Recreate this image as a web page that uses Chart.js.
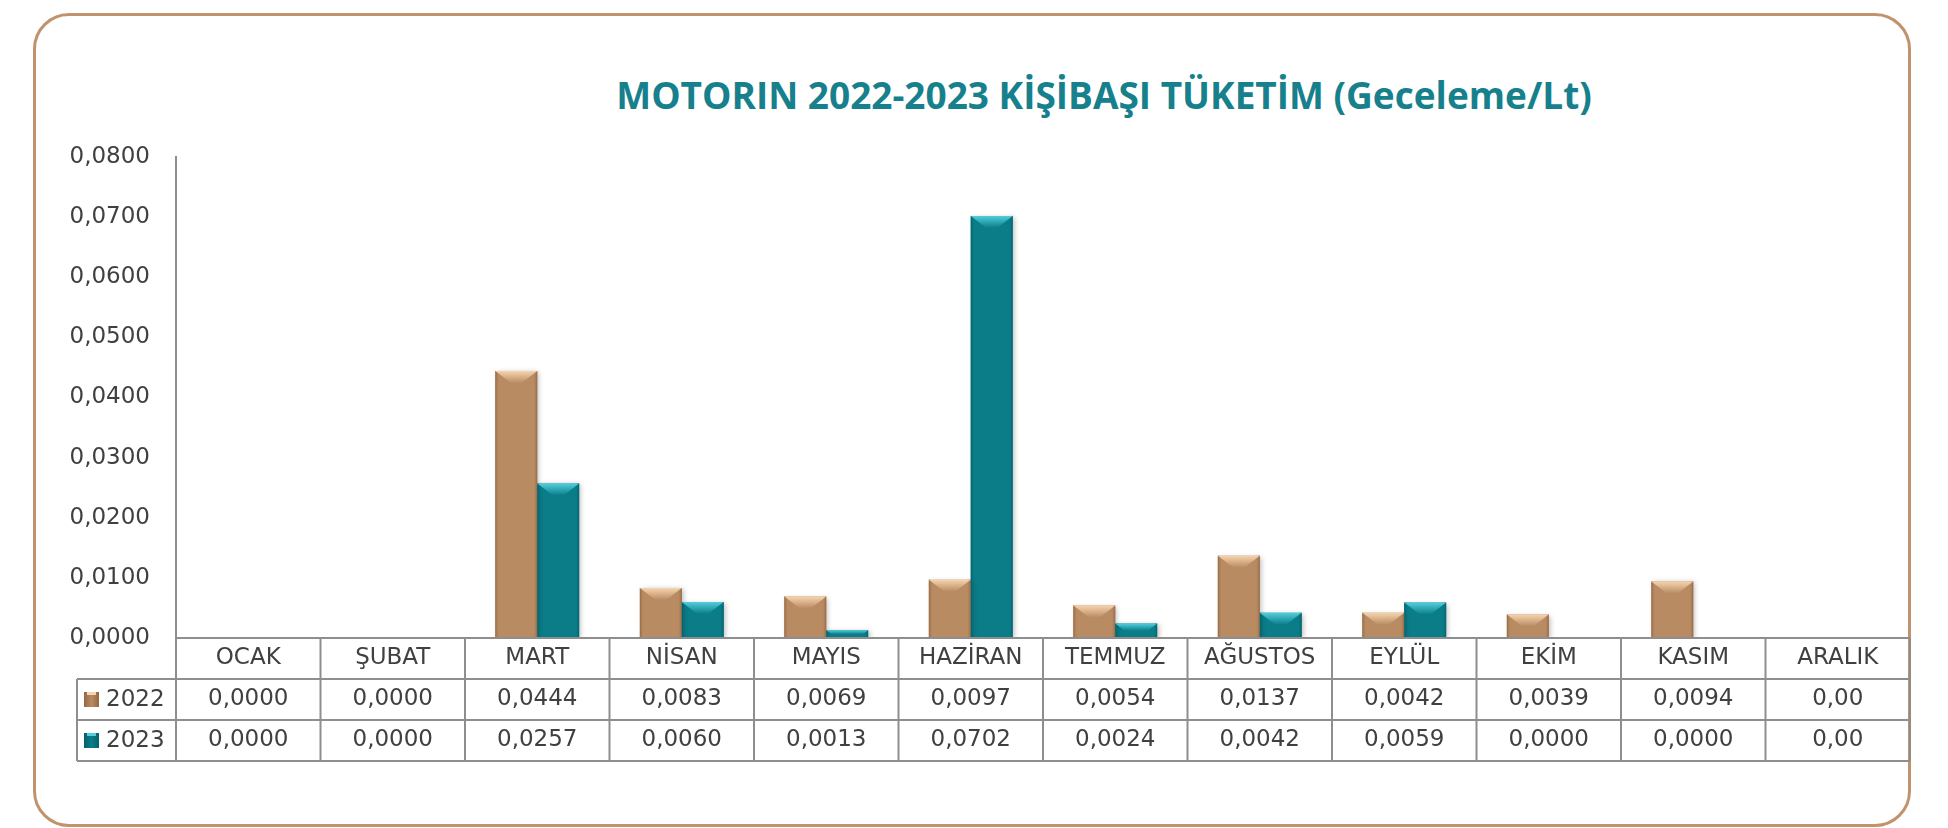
<!DOCTYPE html>
<html lang="tr">
<head>
  <meta charset="UTF-8" />
  <title>Motorin Kişibaşı Tüketim</title>
  <script src="https://cdn.jsdelivr.net/npm/chart.js"></script>
  <style>
    html, body { margin: 0; padding: 0; background: #fff; }
    .frame {
      position: absolute; left: 33px; top: 13px; width: 1878px; height: 814px;
      box-sizing: border-box; border: 3px solid #c0936d; border-radius: 36px;
    }
    .title {
      position: absolute; left: 1104px; top: 76px; transform: translateX(-50%);
      white-space: nowrap; font-family: "Open Sans", sans-serif; font-weight: 700;
      font-size: 37px; line-height: 37px; color: #16808c;
    }
    canvas { position: absolute; left: 0; top: 0; }
  </style>
</head>
<body>
  <div class="frame"></div>
  <div class="title">MOTORIN 2022-2023 KİŞİBAŞI TÜKETİM (Geceleme/Lt)</div>
  <canvas id="chart" width="1948" height="828"></canvas>

  <script>
    const months = ['OCAK', 'ŞUBAT', 'MART', 'NİSAN', 'MAYIS', 'HAZİRAN', 'TEMMUZ', 'AĞUSTOS', 'EYLÜL', 'EKİM', 'KASIM', 'ARALIK'];
    const values2022 = [0, 0, 0.0444, 0.0083, 0.0069, 0.0097, 0.0054, 0.0137, 0.0042, 0.0039, 0.0094, null];
    const values2023 = [0, 0, 0.0257, 0.0060, 0.0013, 0.0702, 0.0024, 0.0042, 0.0059, 0, 0, null];
    const seriesNames = ['2022', '2023'];
    const yMax = 0.08;
    const yStep = 0.01;

    // base, dark edge, light top
    const palette = [
      { base: '#b98b63', dark: '#936844', light: '#f6d4ad' },
      { base: '#0a7d89', dark: '#05606a', light: '#52cfdc' }
    ];

    const fmt = v => (v === null ? '0,00' : v.toFixed(4).replace('.', ','));

    const ROW_H = 41;
    const LINE = '#8e8e8e';
    const TEXT = '#404040';
    const FAMILY = '"DejaVu Sans", Verdana, sans-serif';

    // shadow + bevel look for the bars
    const bevelBars = {
      id: 'bevelBars',
      beforeDatasetsDraw(chart) {
        const ctx = chart.ctx;
        ctx.save();
        ctx.shadowColor = 'rgba(0,0,0,0.25)';
        ctx.shadowBlur = 5;
        ctx.shadowOffsetX = 2;
        ctx.shadowOffsetY = 1;
      },
      afterDatasetsDraw(chart) {
        const ctx = chart.ctx;
        ctx.restore();
        chart.data.datasets.forEach((ds, di) => {
          const p = palette[di];
          chart.getDatasetMeta(di).data.forEach(bar => {
            const x0 = bar.x - bar.width / 2, x1 = bar.x + bar.width / 2;
            const top = bar.y, h = bar.base - bar.y;
            if (h < 1) return;
            ctx.save();
            const g = ctx.createLinearGradient(x0, 0, x1, 0);
            g.addColorStop(0, p.dark);
            g.addColorStop(0.1, p.base + '00');
            g.addColorStop(0.9, p.base + '00');
            g.addColorStop(1, p.dark);
            ctx.fillStyle = g;
            ctx.fillRect(x0, top, x1 - x0, h);
            const b = Math.min(12, h / 2);
            const gt = ctx.createLinearGradient(0, top, 0, top + b);
            gt.addColorStop(0, p.light);
            gt.addColorStop(1, p.base);
            ctx.fillStyle = gt;
            ctx.beginPath();
            ctx.moveTo(x0, top);
            ctx.lineTo(x1, top);
            ctx.lineTo(x1 - b * 1.3, top + b);
            ctx.lineTo(x0 + b * 1.3, top + b);
            ctx.closePath();
            ctx.fill();
            ctx.restore();
          });
        });
      }
    };

    // grid of the data table under the axis, plus the series keys
    const dataTable = {
      id: 'dataTable',
      afterDraw(chart) {
        const ctx = chart.ctx;
        const { left, right, bottom } = chart.chartArea;
        const colW = (right - left) / months.length;
        const keyLeft = left - 99;
        const rows = [bottom, bottom + ROW_H, bottom + ROW_H * 2, bottom + ROW_H * 3];
        ctx.save();
        ctx.strokeStyle = LINE;
        ctx.lineWidth = 2;
        ctx.beginPath();
        ctx.moveTo(left, rows[0]); ctx.lineTo(right, rows[0]);
        for (let r = 1; r < rows.length; r++) {
          ctx.moveTo(keyLeft, rows[r]); ctx.lineTo(right, rows[r]);
        }
        for (let i = 0; i <= months.length; i++) {
          const x = left + i * colW;
          ctx.moveTo(x, rows[0]); ctx.lineTo(x, rows[3]);
        }
        ctx.moveTo(keyLeft, rows[1]); ctx.lineTo(keyLeft, rows[3]);
        ctx.stroke();

        ctx.font = '23px ' + FAMILY;
        ctx.textBaseline = 'middle';
        ctx.textAlign = 'left';
        seriesNames.forEach((name, di) => {
          const cy = (rows[di + 1] + rows[di + 2]) / 2;
          const p = palette[di];
          const sx = keyLeft + 7, s = 15;
          const g = ctx.createLinearGradient(sx, 0, sx + s, 0);
          g.addColorStop(0, p.dark);
          g.addColorStop(0.5, p.base);
          g.addColorStop(1, p.dark);
          ctx.fillStyle = g;
          ctx.fillRect(sx, cy - s / 2, s, s);
          ctx.fillStyle = p.light;
          ctx.fillRect(sx + 3, cy - s / 2, s - 6, 3);
          ctx.fillStyle = TEXT;
          ctx.fillText(name, keyLeft + 29, cy + 1);
        });
        ctx.restore();
      }
    };

    new Chart(document.getElementById('chart'), {
      type: 'bar',
      data: {
        labels: months,
        datasets: [
          { label: seriesNames[0], data: values2022, backgroundColor: palette[0].base },
          { label: seriesNames[1], data: values2023, backgroundColor: palette[1].base }
        ]
      },
      options: {
        responsive: false,
        animation: false,
        layout: { padding: { top: 157, right: 38, bottom: 0, left: 0 } },
        datasets: { bar: { categoryPercentage: 0.58, barPercentage: 1.0, borderWidth: 0 } },
        plugins: {
          legend: { display: false },
          title: { display: false },
          tooltip: { enabled: false }
        },
        scales: {
          x: {
            grid: { display: false, drawTicks: false },
            border: { display: false },
            afterFit(scale) { scale.height = 190; },
            ticks: {
              autoSkip: false,
              maxRotation: 0,
              padding: 0,
              color: TEXT,
              font: { family: FAMILY, size: 23, lineHeight: ROW_H + 'px' },
              callback: (v, i) => [months[i], fmt(values2022[i]), fmt(values2023[i])]
            }
          },
          y: {
            min: 0,
            max: yMax,
            grid: { display: false, drawTicks: false },
            border: { display: true, color: LINE, width: 2 },
            afterFit(scale) { scale.width = 176; },
            ticks: {
              stepSize: yStep,
              padding: 26,
              color: TEXT,
              font: { family: FAMILY, size: 23 },
              callback: v => fmt(v)
            }
          }
        }
      },
      plugins: [bevelBars, dataTable]
    });
  </script>
</body>
</html>
